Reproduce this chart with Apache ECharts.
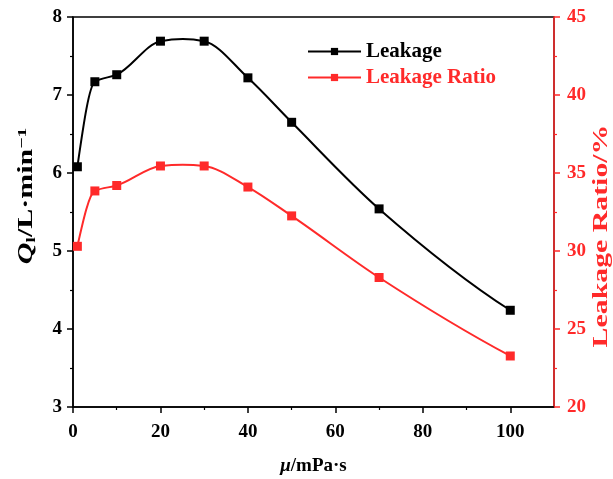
<!DOCTYPE html>
<html><head><meta charset="utf-8">
<script src="https://cdn.jsdelivr.net/npm/echarts@6/dist/echarts.min.js"></script>
<style>html,body{margin:0;padding:0;background:#fff}#c{width:613px;height:479px}</style>
</head><body><div id="c"></div>
<script>
const viscosity = [1, 5, 10, 20, 30, 40, 50, 70, 100];
const leakage = [6.08, 7.17, 7.26, 7.69, 7.69, 7.22, 6.65, 5.54, 4.24];
const leakageRatio = [30.3, 33.85, 34.2, 35.45, 35.45, 34.1, 32.25, 28.3, 23.27];
const xTicks = [0, 20, 40, 60, 80, 100];
const FONT = '"Liberation Serif", "Times New Roman", serif';
const RED = '#ff2a2a';

// Tangents for a smooth (spline-like) curve drawn through the data points
function tangents(xs, ys) {
  const n = xs.length, h = [], d = [], m = [];
  for (let i = 0; i < n - 1; i++) { h.push(xs[i + 1] - xs[i]); d.push((ys[i + 1] - ys[i]) / h[i]); }
  for (let i = 0; i < n; i++) {
    if (i === 0) {
      let v = ((2 * h[0] + h[1]) * d[0] - h[0] * d[1]) / (h[0] + h[1]);
      if (Math.sign(v) !== Math.sign(d[0])) v = 0;
      m.push(v);
    } else if (i === n - 1) {
      const a = h[n - 2], b = h[n - 3];
      let v = ((2 * a + b) * d[n - 2] - a * d[n - 3]) / (a + b);
      if (Math.sign(v) !== Math.sign(d[n - 2])) v = 0;
      m.push(v);
    } else {
      const d0 = d[i - 1], d1 = d[i];
      if (d0 * d1 > 0) {
        const w1 = 2 * h[i] + h[i - 1], w2 = h[i] + 2 * h[i - 1];
        m.push((w1 + w2) / (w1 / d0 + w2 / d1));
      } else {
        m.push(0.5 * (ys[i + 1] - ys[i - 1]) / (xs[i + 1] - xs[i - 1]));
      }
    }
  }
  return m;
}
function curveRenderer(xs, ys, color) {
  const m = tangents(xs, ys);
  return function (params, api) {
    const i = params.dataIndex;
    if (i >= xs.length - 1) return {type: 'group', children: []};
    const h = xs[i + 1] - xs[i];
    const p0 = api.coord([xs[i], ys[i]]);
    const p1 = api.coord([xs[i + 1], ys[i + 1]]);
    const c1 = api.coord([xs[i] + h / 3, ys[i] + m[i] * h / 3]);
    const c2 = api.coord([xs[i + 1] - h / 3, ys[i + 1] - m[i + 1] * h / 3]);
    return {
      type: 'bezierCurve',
      shape: {x1: p0[0], y1: p0[1], x2: p1[0], y2: p1[1], cpx1: c1[0], cpy1: c1[1], cpx2: c2[0], cpy2: c2[1]},
      style: {stroke: color, lineWidth: 2, fill: null}
    };
  };
}

const chart = echarts.init(document.getElementById('c'), null, {renderer: 'canvas'});
chart.setOption({
  animation: false,
  backgroundColor: '#fff',
  textStyle: {fontFamily: FONT},
  grid: {left: 73, right: 59, top: 17, bottom: 72, outerBoundsMode: 'none', containLabel: false,
    show: true, borderColor: '#000', borderWidth: 1.5, backgroundColor: 'transparent'},
  legend: {
    orient: 'vertical', left: 302, top: 36, itemWidth: 53, itemHeight: 9, itemGap: 5,
    lineStyle: {width: 2, opacity: 1},
    textStyle: {fontFamily: FONT, fontWeight: 'bold', fontSize: 21},
    data: [
      {name: 'Leakage', textStyle: {color: '#000'}},
      {name: 'Leakage Ratio', textStyle: {color: RED}}
    ]
  },
  graphic: [{
    type: 'text', x: 27, y: 196, rotation: Math.PI / 2, scaleX: 1.5,
    style: {
      text: '{q|Q}{s|l}{n|/L·min}{p|−1}', align: 'center', verticalAlign: 'middle',
      rich: {
        q: {fontFamily: FONT, fontStyle: 'italic', fontWeight: 'bold', fontSize: 20, fill: '#000'},
        s: {fontFamily: FONT, fontWeight: 'bold', fontSize: 13, fill: '#000', verticalAlign: 'bottom', padding: [9, 0, 0, 0]},
        n: {fontFamily: FONT, fontWeight: 'bold', fontSize: 20, fill: '#000'},
        p: {fontFamily: FONT, fontWeight: 'bold', fontSize: 13, fill: '#000', verticalAlign: 'top', padding: [0, 0, 9, 0]}
      }
    }
  }, {
    type: 'text', x: 602, y: 236, rotation: Math.PI / 2, scaleX: 1.42,
    style: {text: 'Leakage Ratio/%', align: 'center', verticalAlign: 'middle',
      font: 'bold 21px ' + FONT, fill: RED}
  }],
  xAxis: {
    type: 'value', min: 0, max: 110, interval: 20,
    name: '{mu|μ}{n|/mPa·s}', nameLocation: 'middle', nameGap: 50,
    nameTextStyle: {rich: {
      mu: {fontFamily: FONT, fontStyle: 'italic', fontWeight: 'bold', fontSize: 19, color: '#000'},
      n: {fontFamily: FONT, fontWeight: 'bold', fontSize: 19, color: '#000'}
    }},
    axisLine: {lineStyle: {color: '#000', width: 1.5}},
    axisTick: {show: true, inside: false, length: 6, lineStyle: {color: '#000', width: 1.5},
      customValues: xTicks},
    minorTick: {show: true, splitNumber: 2, length: 3, lineStyle: {color: '#000', width: 1.2}},
    axisLabel: {color: '#000', fontFamily: FONT, fontWeight: 'bold', fontSize: 19, margin: 16,
      customValues: xTicks},
    splitLine: {show: false}, minorSplitLine: {show: false}
  },
  yAxis: [{
    type: 'value', min: 3, max: 8, interval: 1, position: 'left',
    axisLine: {show: true, lineStyle: {color: '#000', width: 1.5}},
    axisTick: {show: true, length: 6, lineStyle: {color: '#000', width: 1.5}},
    minorTick: {show: true, splitNumber: 2, length: 3, lineStyle: {color: '#000', width: 1.2}},
    axisLabel: {color: '#000', fontFamily: FONT, fontWeight: 'bold', fontSize: 19, margin: 11},
    splitLine: {show: false}
  }, {
    type: 'value', min: 20, max: 45, interval: 5, position: 'right',
    axisLine: {show: true, lineStyle: {color: RED, width: 1.5}},
    axisTick: {show: true, length: 6, lineStyle: {color: RED, width: 1.5}},
    minorTick: {show: true, splitNumber: 2, length: 3, lineStyle: {color: RED, width: 1.2}},
    axisLabel: {color: RED, fontFamily: FONT, fontWeight: 'bold', fontSize: 19, margin: 13},
    splitLine: {show: false}
  }],
  series: [{
    name: 'Leakage curve', type: 'custom', yAxisIndex: 0, z: 2,
    renderItem: curveRenderer(viscosity, leakage, '#000'),
    encode: {x: 0, y: 1},
    data: viscosity.map((x, i) => [x, leakage[i]])
  }, {
    name: 'Leakage Ratio curve', type: 'custom', yAxisIndex: 1, z: 2,
    renderItem: curveRenderer(viscosity, leakageRatio, RED),
    encode: {x: 0, y: 1},
    data: viscosity.map((x, i) => [x, leakageRatio[i]])
  }, {
    name: 'Leakage', type: 'line', yAxisIndex: 0, z: 3,
    data: viscosity.map((x, i) => [x, leakage[i]]),
    symbol: 'rect', symbolSize: 9,
    itemStyle: {color: '#000'}, lineStyle: {color: '#000', width: 2, opacity: 0}
  }, {
    name: 'Leakage Ratio', type: 'line', yAxisIndex: 1, z: 3,
    data: viscosity.map((x, i) => [x, leakageRatio[i]]),
    symbol: 'rect', symbolSize: 9,
    itemStyle: {color: RED}, lineStyle: {color: RED, width: 2, opacity: 0}
  }]
});
</script></body></html>
